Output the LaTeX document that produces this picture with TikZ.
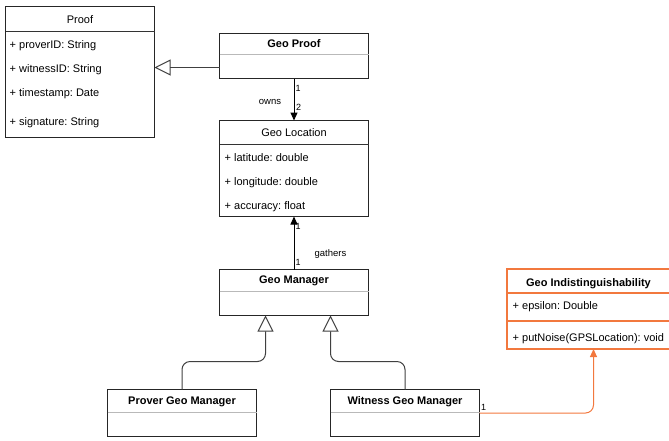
\documentclass[tikz,border=0pt]{standalone}
\usepackage{fontspec}
\setmainfont{Liberation Sans}
\usetikzlibrary{arrows.meta}
\definecolor{noiseorange}{HTML}{F2783E}
\frenchspacing
\tikzset{
  classbox/.style={draw, color=black!85, line width=1pt, minimum width=149pt, anchor=north west, inner sep=0pt, outer sep=0pt},
  noisebox/.style={draw=noiseorange, line width=1.2pt, minimum width=173pt, anchor=north west, inner sep=0pt, outer sep=0pt},
  classname/.style={font=\bfseries\fontsize{11}{13}\selectfont, inner sep=0pt, text height=8pt, text depth=0pt},
  plainname/.style={classname, font=\fontsize{11}{13}\selectfont},
  member/.style={anchor=west, font=\fontsize{11}{13}\selectfont, inner sep=0pt, text height=8pt, text depth=0pt},
  divider/.style={draw=black!80, line width=1pt},
  lightdivider/.style={draw=gray!55, line width=1pt},
  noisedivider/.style={draw=noiseorange, line width=1.2pt},
  multiplicity/.style={font=\fontsize{9}{11}\selectfont, inner sep=0pt, text height=6.5pt, text depth=0pt},
  inherits/.style={draw=black!75, line width=1pt, -{Triangle[open,length=16pt,width=16pt]}},
  assoc/.style={line width=1pt, -{Triangle[length=8pt,width=7pt]}},
}
\begin{document}
\begin{tikzpicture}[x=1pt,y=-1pt]
    \useasboundingbox (0,0) rectangle (669,440);
    \clip (0,0) rectangle (669,440);
    \begin{scope}[shift={(0.5,0.5)}]
    % classes
    \node[classbox, minimum height=131pt] (proof) at (5,6) {};
    \node[plainname] (proof-name) at (79.5,18.5) {Proof};
    \draw[divider] (proof.west |- 0,31) -- (proof.east |- 0,31);
    \node[member] (proof-prover) at (9,43.5) {+ proverID: String};
    \node[member] (proof-witness) at (9,67.5) {+ witnessID: String};
    \node[member] (proof-time) at (9,91.5) {+ timestamp: Date};
    \node[member] (proof-sig) at (9,120.5) {+ signature: String};

    \node[classbox, minimum height=45pt] (geoproof) at (219,33) {};
    \node[classname] (geoproof-name) at (293.5,43) {Geo Proof};
    \draw[lightdivider] (geoproof.west |- 0,54) -- (geoproof.east |- 0,54);

    \node[classbox, minimum height=96pt] (geoloc) at (219,120) {};
    \node[plainname] (geoloc-name) at (293.5,132) {Geo Location};
    \draw[divider] (geoloc.west |- 0,144) -- (geoloc.east |- 0,144);
    \node[member] (geoloc-lat) at (224,157) {+ latitude: double};
    \node[member] (geoloc-lon) at (224,181) {+ longitude: double};
    \node[member] (geoloc-acc) at (224,205) {+ accuracy: float};

    \node[classbox, minimum height=46pt] (geomgr) at (219,269) {};
    \node[classname] (geomgr-name) at (293.5,278.5) {Geo Manager};
    \draw[lightdivider] (geomgr.west |- 0,291) -- (geomgr.east |- 0,291);

    \node[classbox, minimum height=47pt] (prover) at (107,389) {};
    \node[classname] (prover-name) at (181.5,399.5) {Prover Geo Manager};
    \draw[lightdivider] (prover.west |- 0,412) -- (prover.east |- 0,412);

    \node[classbox, minimum height=47pt] (witness) at (330,389) {};
    \node[classname] (witness-name) at (404.5,399.5) {Witness Geo Manager};
    \draw[lightdivider] (witness.west |- 0,412) -- (witness.east |- 0,412);

    \node[noisebox, minimum height=80pt] (geoind) at (506.5,268.5) {};
    \node[classname] (geoind-name) at (588,281.5) {Geo Indistinguishability};
    \draw[noisedivider] (geoind.west |- 0,292.5) -- (geoind.east |- 0,292.5);
    \node[member] (geoind-eps) at (512,305) {+ epsilon: Double};
    \draw[noisedivider] (geoind.west |- 0,320.5) -- (geoind.east |- 0,320.5);
    \node[member] (geoind-noise) at (512,337) {+ putNoise(GPSLocation): void};

    % relations
    \draw[inherits] (geoproof.west |- 0,67) -- (proof.east |- 0,67);
    \draw[assoc] (geoproof.south) -- (geoloc.north);
    \node[multiplicity] (owns-src) at (297.5,87.5) {1};
    \node[multiplicity] (owns-dst) at (298,106.5) {2};
    \node[multiplicity, font=\fontsize{9.5}{11}\selectfont] (owns) at (269.5,100.5) {owns};
    \draw[assoc] (geomgr.north) -- (geoloc.south);
    \node[multiplicity] (gathers-dst) at (297.5,226) {1};
    \node[multiplicity] (gathers-src) at (297.5,262) {1};
    \node[multiplicity, font=\fontsize{9.5}{11}\selectfont] (gathers) at (330,253) {gathers};
    \draw[inherits, rounded corners=8pt] (prover.north) |- (265,361) -- (geomgr.south -| 265,0);
    \draw[inherits, rounded corners=8pt] (witness.north) |- (330,361) -- (geomgr.south -| 330,0);
    \draw[assoc, draw=noiseorange, rounded corners=8pt] (witness.east) -| (geoind.south);
    \node[multiplicity] (noise-src) at (483,406.5) {1};
    \end{scope}
\end{tikzpicture}
\end{document}
